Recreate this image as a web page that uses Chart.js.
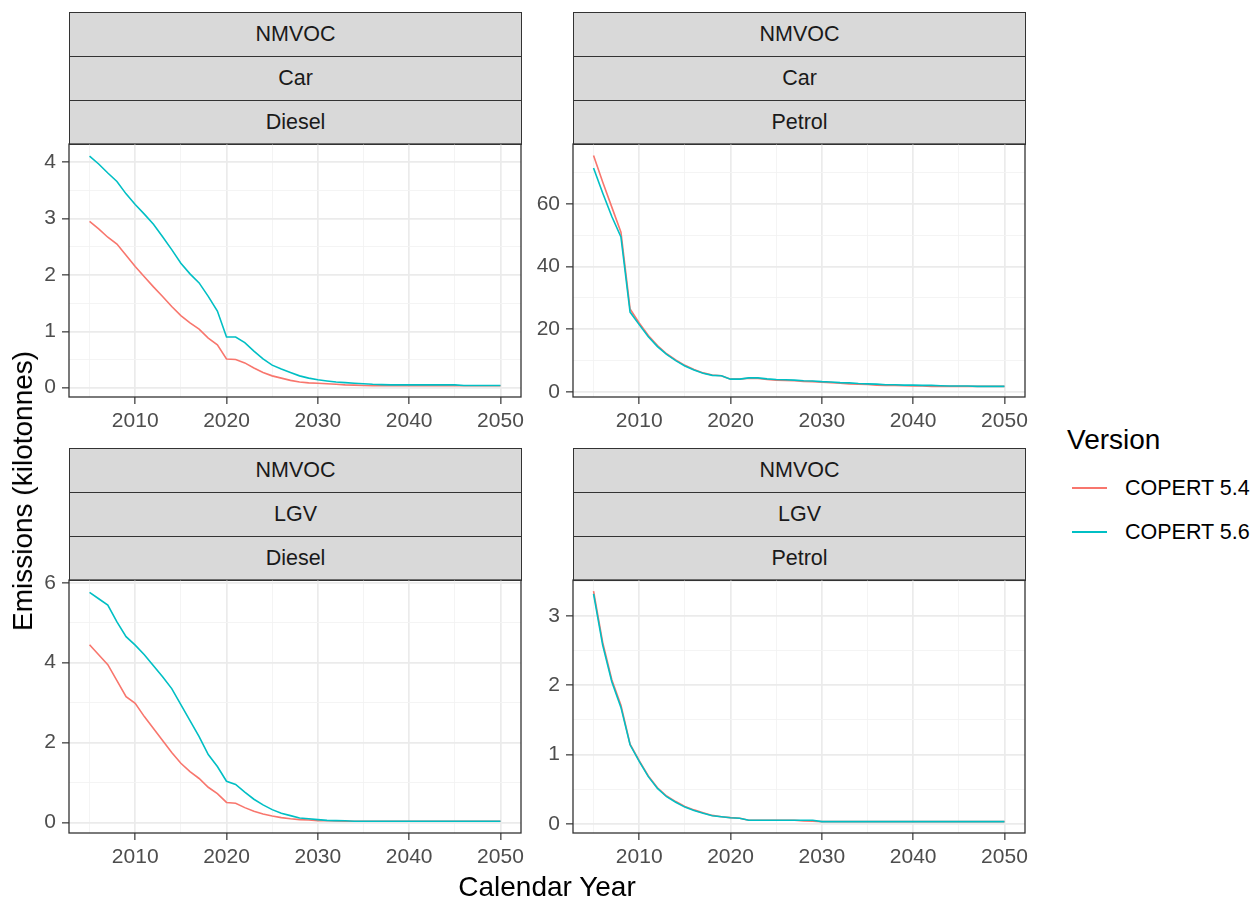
<!DOCTYPE html>
<html>
<head>
<meta charset="utf-8">
<script src="https://cdn.jsdelivr.net/npm/chart.js@4.4.0/dist/chart.umd.min.js"></script>
<style>
  body { margin: 0; background: #fff; font-family: "Liberation Sans", Arial, sans-serif; }
  #page { position: relative; width: 1256px; height: 899px; overflow: hidden; }
  .box { position: absolute; }
  .strip { position: absolute; background: #D9D9D9; border: 1px solid #333; box-sizing: border-box;
           color: #1A1A1A; font-size: 21.5px; display: flex; align-items: center; justify-content: center; }
  .title { position: absolute; color: #000; font-size: 28px; white-space: nowrap; }
  .lgtext { position: absolute; color: #000; font-size: 21.5px; white-space: nowrap; }
  .lgline { position: absolute; height: 1.6px; width: 35px; }
</style>
</head>
<body>
<div id="page"></div>
<script>
// data: emissions (kilotonnes) per calendar year
const years = [2005, 2006, 2007, 2008, 2009, 2010, 2011, 2012, 2013, 2014,
               2015, 2016, 2017, 2018, 2019, 2020, 2021, 2022, 2023, 2024,
               2025, 2026, 2027, 2028, 2029, 2030, 2031, 2032, 2033, 2034,
               2035, 2036, 2037, 2038, 2039, 2040, 2041, 2042, 2043, 2044,
               2045, 2046, 2047, 2048, 2049, 2050];
const versions = ['COPERT 5.4', 'COPERT 5.6'];
const pollutant = 'NMVOC';

const carDiesel54 = [2.95, 2.82, 2.67, 2.55, 2.35, 2.15, 1.97, 1.79, 1.62, 1.44,
                     1.28, 1.15, 1.04, 0.88, 0.76, 0.51, 0.50, 0.44, 0.35, 0.27,
                     0.21, 0.17, 0.13, 0.10, 0.085, 0.08, 0.07, 0.06, 0.05, 0.045,
                     0.04, 0.035, 0.035, 0.035, 0.035, 0.035, 0.035, 0.035, 0.035, 0.035,
                     0.035, 0.035, 0.035, 0.035, 0.035, 0.035];
const carDiesel56 = [4.11, 3.97, 3.81, 3.66, 3.44, 3.25, 3.08, 2.90, 2.68, 2.45,
                     2.21, 2.02, 1.86, 1.62, 1.36, 0.90, 0.90, 0.80, 0.65, 0.51,
                     0.40, 0.33, 0.27, 0.21, 0.17, 0.14, 0.12, 0.10, 0.09, 0.08,
                     0.07, 0.06, 0.055, 0.05, 0.05, 0.05, 0.05, 0.05, 0.05, 0.05,
                     0.05, 0.04, 0.04, 0.04, 0.04, 0.04];
const carPetrol54 = [75.5, 67, 59, 51, 26.5, 22, 18, 14.8, 12.2, 10.2,
                     8.5, 7.2, 6.1, 5.4, 5.2, 4.1, 4.1, 4.4, 4.3, 4.0,
                     3.8, 3.7, 3.6, 3.4, 3.3, 3.1, 3.0, 2.8, 2.6, 2.5,
                     2.4, 2.2, 2.1, 2.1, 2.0, 1.9, 1.9, 1.8, 1.8, 1.8,
                     1.8, 1.8, 1.8, 1.8, 1.8, 1.8];
const carPetrol56 = [71.5, 63.5, 56, 49.5, 25.5, 21.5, 17.6, 14.5, 12, 10,
                     8.3, 7.0, 6.0, 5.3, 5.2, 4.1, 4.1, 4.5, 4.5, 4.2,
                     4.0, 3.9, 3.8, 3.6, 3.5, 3.3, 3.2, 3.0, 2.9, 2.7,
                     2.6, 2.5, 2.3, 2.3, 2.2, 2.2, 2.1, 2.1, 2.0, 1.9,
                     1.9, 1.9, 1.8, 1.8, 1.8, 1.8];
const lgvDiesel54 = [4.45, 4.2, 3.95, 3.55, 3.15, 2.98, 2.65, 2.35, 2.05, 1.75,
                     1.48, 1.27, 1.1, 0.88, 0.72, 0.5, 0.48, 0.37, 0.28, 0.21,
                     0.16, 0.12, 0.09, 0.07, 0.06, 0.045, 0.04, 0.035, 0.03, 0.03,
                     0.03, 0.03, 0.03, 0.03, 0.03, 0.03, 0.03, 0.03, 0.03, 0.03,
                     0.03, 0.03, 0.03, 0.03, 0.03, 0.03];
const lgvDiesel56 = [5.76, 5.6, 5.44, 5.02, 4.65, 4.44, 4.2, 3.92, 3.65, 3.35,
                     2.95, 2.55, 2.15, 1.7, 1.4, 1.03, 0.95, 0.76, 0.58, 0.44,
                     0.32, 0.23, 0.17, 0.11, 0.09, 0.07, 0.05, 0.045, 0.04, 0.03,
                     0.03, 0.03, 0.03, 0.03, 0.03, 0.03, 0.03, 0.03, 0.03, 0.03,
                     0.03, 0.03, 0.03, 0.03, 0.03, 0.03];
const lgvPetrol54 = [3.36, 2.62, 2.08, 1.71, 1.15, 0.91, 0.69, 0.52, 0.40, 0.32,
                     0.25, 0.20, 0.16, 0.12, 0.10, 0.088, 0.08, 0.05, 0.05, 0.05,
                     0.05, 0.05, 0.05, 0.04, 0.035, 0.03, 0.03, 0.03, 0.03, 0.03,
                     0.03, 0.03, 0.03, 0.03, 0.03, 0.03, 0.03, 0.03, 0.03, 0.03,
                     0.03, 0.03, 0.03, 0.03, 0.03, 0.03];
const lgvPetrol56 = [3.32, 2.58, 2.05, 1.68, 1.14, 0.90, 0.68, 0.51, 0.39, 0.31,
                     0.24, 0.19, 0.15, 0.115, 0.10, 0.087, 0.08, 0.05, 0.05, 0.05,
                     0.05, 0.05, 0.05, 0.05, 0.05, 0.03, 0.03, 0.03, 0.03, 0.03,
                     0.03, 0.03, 0.03, 0.03, 0.03, 0.03, 0.03, 0.03, 0.03, 0.03,
                     0.03, 0.03, 0.03, 0.03, 0.03, 0.03];

// tick labels
const xMajor = [2010, 2020, 2030, 2040, 2050];
const xMinor = [2005, 2015, 2025, 2035, 2045];

const colors = ['#F8766D', '#00BFC4'];
const page = document.getElementById('page');

function panelBorder() {
    return {
        id: 'panelBorder',
        afterDraw(chart) {
            const a = chart.chartArea;
            const ctx = chart.ctx;
            ctx.save();
            ctx.strokeStyle = '#333333';
            ctx.lineWidth = 1.3;
            ctx.strokeRect(a.left, a.top, a.right - a.left, a.bottom - a.top);
            ctx.restore();
        }
    };
}

function axisTicks(major, minor) {
    return function (scale) {
        scale.ticks = major.concat(minor).sort((a, b) => a - b).map(v => ({ value: v }));
    };
}

function makePanel(left, top, vehicle, fuel, v54, v56, yRange, yMajor, yMinor) {
    const w = 452, h = 253, stripH = 44, padTop = 25;
    const labels = [pollutant, vehicle, fuel];
    labels.forEach((txt, i) => {
        const s = document.createElement('div');
        s.className = 'strip';
        s.style.left = left + 'px';
        s.style.top = (top - stripH * (3 - i)) + 'px';
        s.style.width = (w + 1) + 'px';
        s.style.height = (stripH + 1) + 'px';
        s.textContent = txt;
        page.appendChild(s);
    });

    const box = document.createElement('div');
    box.className = 'box';
    box.style.left = (left - 70) + 'px';
    box.style.top = (top - padTop) + 'px';
    box.style.width = (70 + w + 30) + 'px';
    box.style.height = (padTop + h + 40) + 'px';
    const canvas = document.createElement('canvas');
    box.appendChild(canvas);
    page.appendChild(box);

    const isMajorX = v => xMajor.includes(v);
    const isMajorY = v => yMajor.includes(v);

    new Chart(canvas, {
        type: 'line',
        data: {
            datasets: [
                { label: versions[1], data: years.map((y, i) => ({ x: y, y: v56[i] })),
                  borderColor: colors[1], borderWidth: 1.6, pointRadius: 0, order: 0 },
                { label: versions[0], data: years.map((y, i) => ({ x: y, y: v54[i] })),
                  borderColor: colors[0], borderWidth: 1.6, pointRadius: 0, order: 1 }
            ]
        },
        options: {
            responsive: true,
            maintainAspectRatio: false,
            animation: false,
            layout: { padding: { top: padTop, right: 30, left: 0, bottom: 0 } },
            plugins: { legend: { display: false }, tooltip: { enabled: false } },
            scales: {
                x: {
                    type: 'linear',
                    min: 2002.75,
                    max: 2052.25,
                    afterBuildTicks: axisTicks(xMajor, xMinor),
                    afterFit: s => { s.height = 40; },
                    border: { display: false },
                    grid: {
                        color: c => isMajorX(c.tick.value) ? '#EBEBEB' : '#F3F3F3',
                        lineWidth: c => isMajorX(c.tick.value) ? 1.7 : 0.9,
                        tickColor: c => isMajorX(c.tick.value) ? '#333333' : 'rgba(0,0,0,0)',
                        tickWidth: 1.2,
                        tickLength: 7
                    },
                    ticks: {
                        autoSkip: false,
                        maxRotation: 0,
                        padding: 5,
                        color: '#4D4D4D',
                        font: { family: 'Liberation Sans, Arial', size: 21 },
                        callback: v => isMajorX(v) ? String(v) : ''
                    }
                },
                y: {
                    min: yRange[0],
                    max: yRange[1],
                    afterBuildTicks: axisTicks(yMajor, yMinor),
                    afterFit: s => { s.width = 70; },
                    border: { display: false },
                    grid: {
                        color: c => isMajorY(c.tick.value) ? '#EBEBEB' : '#F3F3F3',
                        lineWidth: c => isMajorY(c.tick.value) ? 1.7 : 0.9,
                        tickColor: c => isMajorY(c.tick.value) ? '#333333' : 'rgba(0,0,0,0)',
                        tickWidth: 1.2,
                        tickLength: 7
                    },
                    ticks: {
                        autoSkip: false,
                        padding: 6,
                        color: '#4D4D4D',
                        font: { family: 'Liberation Sans, Arial', size: 21 },
                        callback: v => isMajorY(v) ? String(v) : ''
                    }
                }
            }
        },
        plugins: [panelBorder()]
    });
}

makePanel(69, 144, 'Car', 'Diesel', carDiesel54, carDiesel56,
          [-0.165, 4.325], [0, 1, 2, 3, 4], [0.5, 1.5, 2.5, 3.5]);
makePanel(573, 144, 'Car', 'Petrol', carPetrol54, carPetrol56,
          [-1.6, 79.15], [0, 20, 40, 60], [10, 30, 50, 70]);
makePanel(69, 580, 'LGV', 'Diesel', lgvDiesel54, lgvDiesel56,
          [-0.265, 6.07], [0, 2, 4, 6], [1, 3, 5]);
makePanel(573, 580, 'LGV', 'Petrol', lgvPetrol54, lgvPetrol56,
          [-0.134, 3.52], [0, 1, 2, 3], [0.5, 1.5, 2.5, 3.5]);

// axis titles
const xt = document.createElement('div');
xt.className = 'title';
xt.textContent = 'Calendar Year';
xt.style.left = '547px';
xt.style.top = '887px';
xt.style.transform = 'translate(-50%, -50%)';
page.appendChild(xt);

const yt = document.createElement('div');
yt.className = 'title';
yt.textContent = 'Emissions (kilotonnes)';
yt.style.left = '23px';
yt.style.top = '491px';
yt.style.transform = 'translate(-50%, -50%) rotate(-90deg)';
page.appendChild(yt);

// legend
const lt = document.createElement('div');
lt.className = 'title';
lt.textContent = 'Version';
lt.style.left = '1067px';
lt.style.top = '440px';
lt.style.transform = 'translateY(-50%)';
page.appendChild(lt);

versions.forEach((name, i) => {
    const cy = 488 + i * 44;
    const ln = document.createElement('div');
    ln.className = 'lgline';
    ln.style.left = '1072px';
    ln.style.top = (cy - 0.8) + 'px';
    ln.style.background = colors[i];
    page.appendChild(ln);
    const tx = document.createElement('div');
    tx.className = 'lgtext';
    tx.textContent = name;
    tx.style.left = '1125px';
    tx.style.top = cy + 'px';
    tx.style.transform = 'translateY(-50%)';
    page.appendChild(tx);
});
</script>
</body>
</html>
